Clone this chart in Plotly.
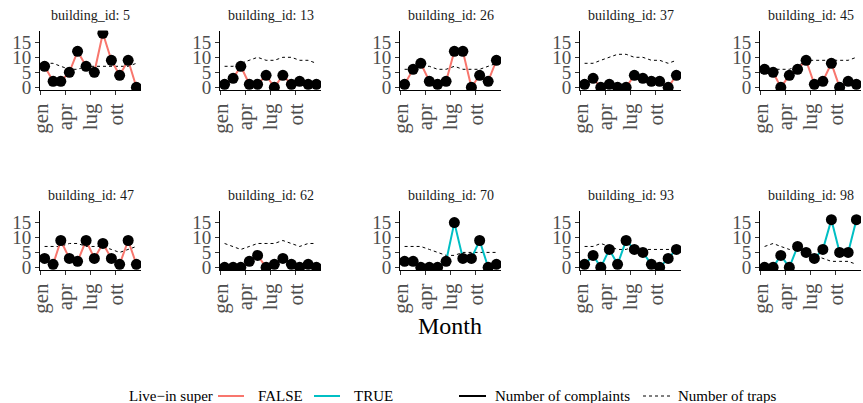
import plotly.graph_objects as go
import pandas as pd

# ---------------- data ----------------
months = ["2018-01-15", "2018-02-15", "2018-03-15", "2018-04-15", "2018-05-15", "2018-06-15",
          "2018-07-15", "2018-08-15", "2018-09-15", "2018-10-15", "2018-11-15", "2018-12-15"]
tick_vals = ["2018-01-01", "2018-04-01", "2018-07-01", "2018-10-01"]
tick_text = ["gen", "apr", "lug", "ott"]
y_ticks = [0, 5, 10, 15]

buildings = [5, 13, 26, 37, 45, 47, 62, 70, 93, 98]
live_in_super = [False, False, False, False, False, False, False, True, True, True]

complaints_5 = [7, 2, 2, 5, 12, 7, 5, 18, 9, 4, 9, 0]
traps_5 = [8, 8, 7, 6, 6, 7, 7, 7, 7, 7, 7, 8]
complaints_13 = [1, 3, 7, 1, 1, 4, 0, 4, 1, 2, 1, 1]
traps_13 = [7, 7, 8, 9, 10, 9, 9, 10, 10, 9, 9, 8]
complaints_26 = [1, 6, 8, 2, 1, 2, 12, 12, 0, 4, 2, 9]
traps_26 = [6, 6, 7, 7, 6, 6, 7, 6, 6, 6, 7, 8]
complaints_37 = [1, 3, 0, 1, 0, 0, 4, 3, 2, 2, 0, 4]
traps_37 = [8, 8, 9, 10, 11, 11, 10, 10, 9, 9, 8, 9]
complaints_45 = [6, 5, 0, 4, 6, 9, 1, 2, 8, 0, 2, 1]
traps_45 = [6, 6, 6, 6, 7, 9, 9, 9, 9, 9, 9, 10]
complaints_47 = [3, 1, 9, 3, 2, 9, 3, 8, 3, 1, 9, 1]
traps_47 = [7, 7, 7, 8, 8, 7, 7, 7, 6, 5, 6, 7]
complaints_62 = [0, 0, 0, 2, 4, 0, 1, 3, 1, 0, 1, 0]
traps_62 = [8, 7, 6, 7, 8, 8, 8, 9, 8, 7, 8, 8]
complaints_70 = [2, 2, 0, 0, 0, 2, 15, 3, 3, 9, 0, 1]
traps_70 = [7, 7, 7, 6, 5, 4, 4, 5, 5, 5, 5, 5]
complaints_93 = [1, 4, 0, 6, 1, 9, 6, 5, 1, 0, 3, 6]
traps_93 = [7, 7, 8, 7, 6, 6, 7, 6, 6, 6, 6, 6]
complaints_98 = [0, 0, 4, 0, 7, 5, 3, 6, 16, 5, 5, 16]
traps_98 = [7, 8, 7, 6, 6, 5, 4, 3, 2, 2, 2, 1]

complaints = [complaints_5, complaints_13, complaints_26, complaints_37, complaints_45,
              complaints_47, complaints_62, complaints_70, complaints_93, complaints_98]
traps = [traps_5, traps_13, traps_26, traps_37, traps_45,
         traps_47, traps_62, traps_70, traps_93, traps_98]

legend_title = "Live−in super"
legend_colour_labels = ["FALSE", "TRUE"]
legend_type_labels = ["Number of complaints", "Number of traps"]
x_title = "Month"

# ---------------- style ----------------
W, H = 863, 403
FONT = "Liberation Serif, Times New Roman, Times, serif"
COL = {False: "#F8766D", True: "#00BFC4"}
DASH = "3px,3px"
panel_w = 101
col_left = [40, 220, 400, 580, 760]
row_top = [30.6, 211]
row_bot = [90, 270]

dates = pd.to_datetime(months)
span = dates[-1] - dates[0]
x_range = [dates[0] - span * 0.05, dates[-1] + span * 0.05]
y_all = [v for s in complaints + traps for v in s]
y_span = max(y_all) - min(y_all)
y_range = [min(y_all) - 0.05 * y_span, max(y_all) + 0.05 * y_span]

fig = go.Figure()
layout = {}
annotations = []
shapes = []

for i, b in enumerate(buildings):
    r, c = divmod(i, 5)
    n = "" if i == 0 else str(i + 1)
    xa, ya = "x" + n, "y" + n
    x0 = col_left[c] / W
    x1 = (col_left[c] + panel_w) / W
    y0 = 1 - row_bot[r] / H
    y1 = 1 - row_top[r] / H
    layout["xaxis" + n] = dict(
        domain=[x0, x1], anchor=ya, type="date", range=x_range,
        tickvals=tick_vals, ticktext=tick_text, tickangle=-90,
        tickfont=dict(family=FONT, size=21, color="#4D4D4D"),
        showline=True, linecolor="black", linewidth=1.1,
        ticks="outside", ticklen=4, tickcolor="#333333", tickwidth=1,
        showgrid=False, zeroline=False, automargin=False, fixedrange=True,
    )
    layout["yaxis" + n] = dict(
        domain=[y0, y1], anchor=xa, range=y_range,
        tickvals=y_ticks,
        tickfont=dict(family=FONT, size=19, color="#4D4D4D"),
        showline=True, linecolor="black", linewidth=1.1,
        ticks="outside", ticklen=4, tickcolor="#333333", tickwidth=1,
        showgrid=False, zeroline=False, automargin=False, fixedrange=True,
    )
    annotations.append(dict(
        text=f"building_id: {b}", x=(x0 + x1) / 2, y=1 - (row_top[r] - 15.5) / H,
        xref="paper", yref="paper", showarrow=False, xanchor="center", yanchor="middle",
        font=dict(family=FONT, size=14, color="#1A1A1A"),
    ))
    # traps (dashed)
    fig.add_trace(go.Scatter(
        x=months, y=traps[i], mode="lines", xaxis=xa, yaxis=ya,
        line=dict(color="black", width=1, dash=DASH), showlegend=False, hoverinfo="skip",
    ))
    # complaints line
    fig.add_trace(go.Scatter(
        x=months, y=complaints[i], mode="lines", xaxis=xa, yaxis=ya,
        line=dict(color=COL[live_in_super[i]], width=2), showlegend=False,
    ))
    # complaints points
    fig.add_trace(go.Scatter(
        x=months, y=complaints[i], mode="markers", xaxis=xa, yaxis=ya,
        marker=dict(color="black", size=11), showlegend=False,
    ))

# x-axis title
annotations.append(dict(
    text=x_title, x=450 / W, y=1 - 326 / H, xref="paper", yref="paper", showarrow=False,
    xanchor="center", yanchor="middle", font=dict(family=FONT, size=24, color="black"),
))

# ---------------- legend (drawn manually at the bottom) ----------------
LEG_Y = 1 - 396 / H


def leg_text(text, px):
    annotations.append(dict(
        text=text, x=px / W, y=LEG_Y, xref="paper", yref="paper", showarrow=False,
        xanchor="left", yanchor="middle", font=dict(family=FONT, size=15, color="#000000"),
    ))


def leg_key(px0, px1, colour, width, dash="solid"):
    shapes.append(dict(
        type="line", xref="paper", yref="paper", x0=px0 / W, x1=px1 / W, y0=LEG_Y, y1=LEG_Y,
        line=dict(color=colour, width=width, dash=dash),
    ))


leg_text(legend_title, 127)
leg_key(218, 244, COL[False], 2)
leg_text(legend_colour_labels[0], 256)
leg_key(314, 340, COL[True], 2)
leg_text(legend_colour_labels[1], 352)
leg_key(459, 486, "black", 2)
leg_text(legend_type_labels[0], 493)
leg_key(643, 670, "black", 1, DASH)
leg_text(legend_type_labels[1], 676)

fig.update_layout(
    **layout,
    annotations=annotations,
    shapes=shapes,
    width=W, height=H,
    margin=dict(l=0, r=0, t=0, b=0),
    paper_bgcolor="white", plot_bgcolor="white",
    font=dict(family=FONT, size=15, color="black"),
    showlegend=False,
)

fig.write_html("out.html")
